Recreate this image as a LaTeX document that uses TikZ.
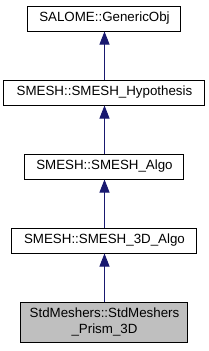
\documentclass[tikz,border=0pt]{standalone}
\usepackage{fontspec}
\setmainfont{Liberation Sans}
\usetikzlibrary{arrows.meta}
\definecolor{edgeblue}{RGB}{25,25,112}
\definecolor{boxgray}{RGB}{191,191,191}
\begin{document}
\begin{tikzpicture}[x=0.75pt,y=-0.75pt,
  cls/.style={draw=black,line width=0.75pt,fill=white,inner sep=0pt,align=center,font=\fontsize{10pt}{12pt}\selectfont},
  inh/.style={draw=edgeblue,line width=0.75pt,-{Triangle[length=9.75pt,width=7.5pt]}}]
\useasboundingbox (0,0) rectangle (209,351);
\node[cls,minimum width=153*0.75pt,minimum height=25*0.75pt] (a) at (104.5,18.5) {SALOME::GenericObj};
\node[cls,minimum width=201*0.75pt,minimum height=25*0.75pt] (b) at (104.5,92.5) {SMESH::SMESH\_Hypothesis};
\node[cls,minimum width=159*0.75pt,minimum height=25*0.75pt] (c) at (104.5,166.5) {SMESH::SMESH\_Algo};
\node[cls,minimum width=185*0.75pt,minimum height=25*0.75pt] (d) at (104.5,240.5) {SMESH::SMESH\_3D\_Algo};
\node[cls,fill=boxgray,minimum width=167*0.75pt,minimum height=40*0.75pt] (e) at (104.5,322) {StdMeshers::StdMeshers\\\_Prism\_3D};
\draw[inh] (b.north) -- (a.south);
\draw[inh] (c.north) -- (b.south);
\draw[inh] (d.north) -- (c.south);
\draw[inh] (e.north) -- (d.south);
\end{tikzpicture}
\end{document}
